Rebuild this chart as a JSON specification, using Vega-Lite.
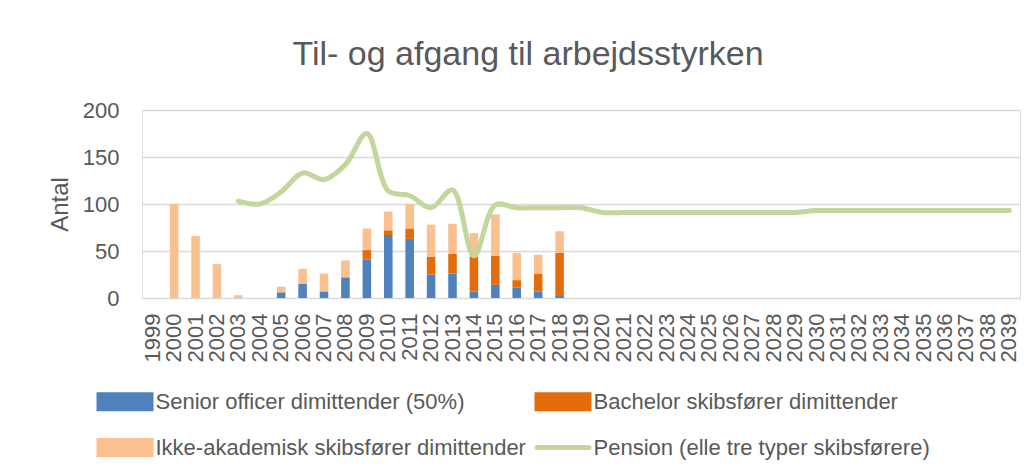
{
  "$schema": "https://vega.github.io/schema/vega-lite/v6.json",
  "autosize": "none",
  "width": 878,
  "height": 188,
  "padding": {"left": 142, "top": 110, "right": 15, "bottom": 176},
  "background": "white",
  "title": {
    "text": "Til- og afgang til arbejdsstyrken",
    "frame": "group",
    "anchor": "middle",
    "dx": -53,
    "offset": 27,
    "fontSize": 34,
    "fontWeight": "normal",
    "font": "Liberation Sans",
    "color": "#595959"
  },
  "datasets": {
    "bars": [
      {"year": "2000", "series": "Ikke-akademisk skibsfører dimittender", "ord": 3, "value": 100},
      {"year": "2001", "series": "Ikke-akademisk skibsfører dimittender", "ord": 3, "value": 66},
      {"year": "2002", "series": "Ikke-akademisk skibsfører dimittender", "ord": 3, "value": 36},
      {"year": "2003", "series": "Ikke-akademisk skibsfører dimittender", "ord": 3, "value": 3},
      {"year": "2005", "series": "Senior officer dimittender (50%)", "ord": 1, "value": 6},
      {"year": "2005", "series": "Ikke-akademisk skibsfører dimittender", "ord": 3, "value": 6},
      {"year": "2006", "series": "Senior officer dimittender (50%)", "ord": 1, "value": 15},
      {"year": "2006", "series": "Ikke-akademisk skibsfører dimittender", "ord": 3, "value": 16},
      {"year": "2007", "series": "Senior officer dimittender (50%)", "ord": 1, "value": 7},
      {"year": "2007", "series": "Ikke-akademisk skibsfører dimittender", "ord": 3, "value": 19},
      {"year": "2008", "series": "Senior officer dimittender (50%)", "ord": 1, "value": 22},
      {"year": "2008", "series": "Ikke-akademisk skibsfører dimittender", "ord": 3, "value": 18},
      {"year": "2009", "series": "Senior officer dimittender (50%)", "ord": 1, "value": 41},
      {"year": "2009", "series": "Bachelor skibsfører dimittender", "ord": 2, "value": 10},
      {"year": "2009", "series": "Ikke-akademisk skibsfører dimittender", "ord": 3, "value": 23},
      {"year": "2010", "series": "Senior officer dimittender (50%)", "ord": 1, "value": 67},
      {"year": "2010", "series": "Bachelor skibsfører dimittender", "ord": 2, "value": 5},
      {"year": "2010", "series": "Ikke-akademisk skibsfører dimittender", "ord": 3, "value": 20},
      {"year": "2011", "series": "Senior officer dimittender (50%)", "ord": 1, "value": 63},
      {"year": "2011", "series": "Bachelor skibsfører dimittender", "ord": 2, "value": 11},
      {"year": "2011", "series": "Ikke-akademisk skibsfører dimittender", "ord": 3, "value": 26},
      {"year": "2012", "series": "Senior officer dimittender (50%)", "ord": 1, "value": 25},
      {"year": "2012", "series": "Bachelor skibsfører dimittender", "ord": 2, "value": 19},
      {"year": "2012", "series": "Ikke-akademisk skibsfører dimittender", "ord": 3, "value": 34},
      {"year": "2013", "series": "Senior officer dimittender (50%)", "ord": 1, "value": 26},
      {"year": "2013", "series": "Bachelor skibsfører dimittender", "ord": 2, "value": 21},
      {"year": "2013", "series": "Ikke-akademisk skibsfører dimittender", "ord": 3, "value": 32},
      {"year": "2014", "series": "Senior officer dimittender (50%)", "ord": 1, "value": 7},
      {"year": "2014", "series": "Bachelor skibsfører dimittender", "ord": 2, "value": 37},
      {"year": "2014", "series": "Ikke-akademisk skibsfører dimittender", "ord": 3, "value": 25},
      {"year": "2015", "series": "Senior officer dimittender (50%)", "ord": 1, "value": 14},
      {"year": "2015", "series": "Bachelor skibsfører dimittender", "ord": 2, "value": 31},
      {"year": "2015", "series": "Ikke-akademisk skibsfører dimittender", "ord": 3, "value": 44},
      {"year": "2016", "series": "Senior officer dimittender (50%)", "ord": 1, "value": 11},
      {"year": "2016", "series": "Bachelor skibsfører dimittender", "ord": 2, "value": 8},
      {"year": "2016", "series": "Ikke-akademisk skibsfører dimittender", "ord": 3, "value": 29},
      {"year": "2017", "series": "Senior officer dimittender (50%)", "ord": 1, "value": 7},
      {"year": "2017", "series": "Bachelor skibsfører dimittender", "ord": 2, "value": 19},
      {"year": "2017", "series": "Ikke-akademisk skibsfører dimittender", "ord": 3, "value": 20},
      {"year": "2018", "series": "Senior officer dimittender (50%)", "ord": 1, "value": 3},
      {"year": "2018", "series": "Bachelor skibsfører dimittender", "ord": 2, "value": 45},
      {"year": "2018", "series": "Ikke-akademisk skibsfører dimittender", "ord": 3, "value": 23}
    ],
    "pension": [
      {"year": "2003", "series": "Pension (elle tre typer skibsførere)", "value": 103},
      {"year": "2004", "series": "Pension (elle tre typer skibsførere)", "value": 100},
      {"year": "2005", "series": "Pension (elle tre typer skibsførere)", "value": 113},
      {"year": "2006", "series": "Pension (elle tre typer skibsførere)", "value": 133},
      {"year": "2007", "series": "Pension (elle tre typer skibsførere)", "value": 126},
      {"year": "2008", "series": "Pension (elle tre typer skibsførere)", "value": 142},
      {"year": "2009", "series": "Pension (elle tre typer skibsførere)", "value": 175},
      {"year": "2010", "series": "Pension (elle tre typer skibsførere)", "value": 114},
      {"year": "2011", "series": "Pension (elle tre typer skibsførere)", "value": 109},
      {"year": "2012", "series": "Pension (elle tre typer skibsførere)", "value": 96},
      {"year": "2013", "series": "Pension (elle tre typer skibsførere)", "value": 115},
      {"year": "2014", "series": "Pension (elle tre typer skibsførere)", "value": 45},
      {"year": "2015", "series": "Pension (elle tre typer skibsførere)", "value": 99},
      {"year": "2016", "series": "Pension (elle tre typer skibsførere)", "value": 96},
      {"year": "2017", "series": "Pension (elle tre typer skibsførere)", "value": 96},
      {"year": "2018", "series": "Pension (elle tre typer skibsførere)", "value": 96},
      {"year": "2019", "series": "Pension (elle tre typer skibsførere)", "value": 96},
      {"year": "2020", "series": "Pension (elle tre typer skibsførere)", "value": 91},
      {"year": "2021", "series": "Pension (elle tre typer skibsførere)", "value": 91},
      {"year": "2022", "series": "Pension (elle tre typer skibsførere)", "value": 91},
      {"year": "2023", "series": "Pension (elle tre typer skibsførere)", "value": 91},
      {"year": "2024", "series": "Pension (elle tre typer skibsførere)", "value": 91},
      {"year": "2025", "series": "Pension (elle tre typer skibsførere)", "value": 91},
      {"year": "2026", "series": "Pension (elle tre typer skibsførere)", "value": 91},
      {"year": "2027", "series": "Pension (elle tre typer skibsførere)", "value": 91},
      {"year": "2028", "series": "Pension (elle tre typer skibsførere)", "value": 91},
      {"year": "2029", "series": "Pension (elle tre typer skibsførere)", "value": 91},
      {"year": "2030", "series": "Pension (elle tre typer skibsførere)", "value": 93},
      {"year": "2031", "series": "Pension (elle tre typer skibsførere)", "value": 93},
      {"year": "2032", "series": "Pension (elle tre typer skibsførere)", "value": 93},
      {"year": "2033", "series": "Pension (elle tre typer skibsførere)", "value": 93},
      {"year": "2034", "series": "Pension (elle tre typer skibsførere)", "value": 93},
      {"year": "2035", "series": "Pension (elle tre typer skibsførere)", "value": 93},
      {"year": "2036", "series": "Pension (elle tre typer skibsførere)", "value": 93},
      {"year": "2037", "series": "Pension (elle tre typer skibsførere)", "value": 93},
      {"year": "2038", "series": "Pension (elle tre typer skibsførere)", "value": 93},
      {"year": "2039", "series": "Pension (elle tre typer skibsførere)", "value": 93}
    ]
  },
  "encoding": {
    "x": {
      "field": "year",
      "type": "ordinal",
      "scale": {
        "domain": ["1999","2000","2001","2002","2003","2004","2005","2006","2007","2008","2009","2010","2011","2012","2013","2014","2015","2016","2017","2018","2019","2020","2021","2022","2023","2024","2025","2026","2027","2028","2029","2030","2031","2032","2033","2034","2035","2036","2037","2038","2039"],
        "paddingInner": 0.6,
        "paddingOuter": 0.3
      },
      "axis": {
        "title": null,
        "labelAngle": -90,
        "labelAlign": "right",
        "labelBaseline": "middle",
        "labelPadding": 15,
        "ticks": false,
        "tickSize": 0,
        "domain": false,
        "grid": false,
        "labelFont": "Liberation Sans",
        "labelFontSize": 22,
        "labelColor": "#595959",
        "labelOverlap": false
      }
    },
    "y": {
      "field": "value",
      "type": "quantitative",
      "scale": {"domain": [0, 200], "nice": false, "zero": true},
      "axis": {
        "title": "Antal",
        "values": [0, 50, 100, 150, 200],
        "ticks": false,
        "tickSize": 0,
        "domain": false,
        "grid": true,
        "gridColor": "#d9d9d9",
        "gridWidth": 1.5,
        "labelPadding": 23,
        "labelFont": "Liberation Sans",
        "labelFontSize": 22,
        "labelColor": "#595959",
        "titleFont": "Liberation Sans",
        "titleFontSize": 24,
        "titleFontWeight": "normal",
        "titleColor": "#595959",
        "titlePadding": 10
      }
    }
  },
  "layer": [
    {
      "data": {"name": "bars"},
      "mark": {"type": "bar"},
      "encoding": {
        "color": {
          "field": "series",
          "type": "nominal",
          "scale": {
            "domain": ["Senior officer dimittender (50%)", "Bachelor skibsfører dimittender", "Ikke-akademisk skibsfører dimittender", "Pension (elle tre typer skibsførere)"],
            "range": ["#4f81bd", "#e46c0a", "#fac090", "#c3d69b"]
          },
          "legend": {
            "title": null,
            "orient": "none",
            "legendX": -45.5,
            "legendY": 263,
            "columns": 2,
            "direction": "horizontal",
            "padding": 0,
            "columnPadding": 0,
            "rowPadding": -12,
            "symbolSize": 2704,
            "symbolStrokeWidth": 5,
            "labelOffset": 2,
            "labelLimit": 700,
            "labelFont": "Liberation Sans",
            "labelFontSize": 22,
            "labelColor": "#595959",
            "encode": {
              "symbols": {
                "update": {
                  "shape": {"signal": "datum.value === 'Pension (elle tre typer skibsførere)' ? 'stroke' : 'M-1,-0.27H1V0.27H-1Z'"},
                  "fill": {"signal": "datum.value === 'Pension (elle tre typer skibsførere)' ? 'transparent' : scale('color', datum.value)"},
                  "stroke": {"signal": "datum.value === 'Pension (elle tre typer skibsførere)' ? scale('color', datum.value) : 'transparent'"},
                  "strokeWidth": {"value": 5},
                  "strokeCap": {"value": "round"},
                  "opacity": {"value": 1}
                }
              }
            }
          }
        },
        "order": {"field": "ord", "type": "quantitative", "sort": "ascending"}
      }
    },
    {
      "data": {"name": "pension"},
      "mark": {"type": "line", "interpolate": "catmull-rom", "strokeWidth": 5, "strokeCap": "round", "strokeJoin": "round"},
      "encoding": {
        "color": {"field": "series", "type": "nominal", "legend": null}
      }
    }
  ]
}
